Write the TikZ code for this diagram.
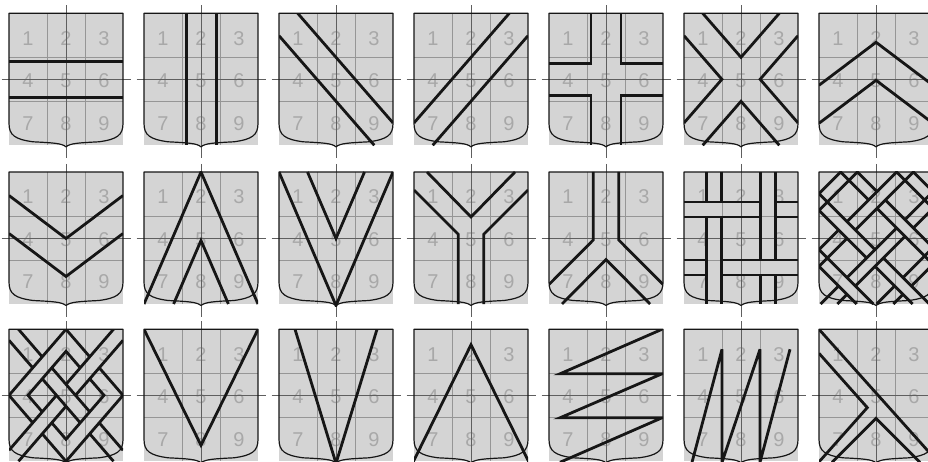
\documentclass[tikz,border=0pt]{standalone}
\usepackage{fontspec}
\setmainfont{Liberation Sans}
\definecolor{fillc}{RGB}{212,212,212}
\definecolor{gridc}{RGB}{150,150,150}
\definecolor{axisc}{RGB}{95,95,95}
\definecolor{numc}{RGB}{168,168,168}
\definecolor{ink}{RGB}{22,22,22}
\tikzset{
  gridln/.style={draw=gridc, line width=0.7pt},
  axisln/.style={draw=axisc, line width=0.9pt},
  outln/.style={draw=ink, line width=1.2pt, line join=round},
  pat/.style={draw=ink, line width=2.8pt, line join=miter, miter limit=5},
  digit/.style={text=numc, font=\fontsize{20}{20}\selectfont, inner sep=0pt}
}
\newcommand{\shieldat}[4]{%
  \begin{scope}[shift={(#2,#3)}]
    \fill[fillc] (0,0) rectangle (114,132);
    \draw[gridln] (38,0) -- (38,132) (76,0) -- (76,132) (0,44) -- (114,44) (0,88) -- (114,88);
    \foreach \n/\px/\py in {1/19/25,2/57/25,3/95/25,4/19/67.5,5/57/67.5,6/95/67.5,7/19/110,8/57/110,9/95/110}
      \node[digit] (#1d\n) at (\px,\py) {\n};
    \draw[axisln] (57,-8) -- (57,145) (-7.5,66.5) -- (121.5,66.5);
    \draw[outln] (0,0) -- (114,0) -- (114,110) .. controls (114,122) and (108,126) .. (90,128.5)
      .. controls (70,129.5) and (61,130) .. (57,133.5)
      .. controls (53,130) and (44,129.5) .. (24,128.5)
      .. controls (6,126) and (0,122) .. (0,110) -- cycle;
    \begin{scope}
      \clip (0,0) rectangle (114,134);
      #4
    \end{scope}
  \end{scope}}
\begin{document}
\begin{tikzpicture}[x=1pt,y=-1pt]
\useasboundingbox (0,0) rectangle (928,462);
% ---------- row 1
\shieldat{a}{9}{13.3}{\draw[pat] (0,48.5) -- (114,48.5) (0,84.5) -- (114,84.5);}
\shieldat{b}{144}{13.3}{\draw[pat] (42.5,0) -- (42.5,132) (72.5,0) -- (72.5,132);}
\shieldat{c}{279}{13.3}{\draw[pat] (18.7,0) -- (114,109.6) (0,22.4) -- (95.3,132);}
\shieldat{d}{414}{13.3}{\draw[pat] (95.3,0) -- (0,109.6) (114,22.4) -- (18.7,132);}
\shieldat{e}{549}{13.3}{\draw[pat] (42,0) -- (42,50) -- (0,50) (72,0) -- (72,50) -- (114,50)
   (0,82) -- (42,82) -- (42,132) (114,82) -- (72,82) -- (72,132);}
\shieldat{f}{684}{13.3}{\draw[pat] (18.7,0) -- (57,44) -- (95.3,0) (18.7,132) -- (57,88) -- (95.3,132)
   (0,22.4) -- (37.9,66) -- (0,109.6) (114,22.4) -- (76.1,66) -- (114,109.6);}
\shieldat{g}{819}{13.3}{\draw[pat] (0,72) -- (57,29) -- (114,72) (0,110) -- (57,67) -- (114,110);}
% ---------- row 2
\shieldat{h}{9}{172}{\draw[pat] (0,23.5) -- (57,66.5) -- (114,23.5) (0,61.5) -- (57,104.5) -- (114,61.5);}
\shieldat{i}{144}{172}{\draw[pat] (0,132) -- (57,0) -- (114,132) (29.6,132) -- (57,68.5) -- (84.4,132);}
\shieldat{j}{279}{172}{\draw[pat] (0,0) -- (57,133.5) -- (114,0) (28.5,0) -- (57,66.5) -- (85.5,0);}
\shieldat{k}{414}{172}{\draw[pat] (13,0) -- (57,45) -- (101,0) (0,18) -- (44.25,62.25) -- (44.25,132)
   (114,18) -- (69.75,62.25) -- (69.75,132);}
\shieldat{l}{549}{172}{\draw[pat] (44.25,0) -- (44.25,68) -- (0,112.5) (69.75,0) -- (69.75,68) -- (114,112.5)
   (13,132) -- (57,87.5) -- (101,132);}
\shieldat{m}{684}{172}{\draw[pat] (22.5,0) -- (22.5,30) (37.5,0) -- (37.5,30) (22.5,45) -- (22.5,132) (37.5,45) -- (37.5,132)
   (76.5,0) -- (76.5,88) (91.5,0) -- (91.5,88) (76.5,103) -- (76.5,132) (91.5,103) -- (91.5,132)
   (0,30) -- (76.5,30) (0,45) -- (76.5,45) (91.5,30) -- (114,30) (91.5,45) -- (114,45)
   (0,88) -- (22.5,88) (0,103) -- (22.5,103) (37.5,88) -- (114,88) (37.5,103) -- (114,103);}
\shieldat{n}{819}{172}{\draw[pat]
   (56,77.7) -- (0,21.7) -- (21.7,0) -- (49.7,28)
   (58,36.3) -- (114,92.3) -- (92.3,114)
   (84,122.3) -- (74.3,132)
   (64.3,86) -- (110.3,132)
   (47.7,86) -- (0,38.3) -- (38.3,0) -- (58,19.7)
   (66.3,28) -- (114,75.7) -- (84,105.7)
   (75.7,114) -- (57.7,132)
   (56,94.3) -- (93.7,132)
   (19.7,58) -- (0,77.7) -- (54.3,132)
   (28,49.7) -- (77.7,0) -- (114,36.3) -- (94.3,56)
   (86,64.3) -- (36.3,114)
   (28,122.3) -- (18.3,132)
   (28,66.3) -- (0,94.3) -- (37.7,132)
   (36.3,58) -- (94.3,0) -- (114,19.7) -- (86,47.7)
   (77.7,56) -- (28,105.7)
   (19.7,114) -- (1.7,132);}
% ---------- row 3
\shieldat{o}{9}{329.3}{\draw[pat]
   (9.5,0) -- (33.25,27.5) (0,11) -- (23.75,38.5)
   (42.74,38.5) -- (80.74,82.5) (33.25,49.5) -- (71.24,93.5)
   (90.24,93.5) -- (114,121) (80.74,104.5) -- (104.5,132)
   (0,121) -- (47.5,66) (57,55) -- (104.5,0)
   (9.5,132) -- (57,77) (66.5,66) -- (114,11)
   (23.75,93.5) -- (0,66) -- (57,0) -- (80.74,27.5)
   (90.24,38.5) -- (114,66) -- (57,132) -- (33.25,104.5)
   (33.25,82.5) -- (19,66) -- (57,22) -- (71.24,38.5)
   (80.74,49.5) -- (95,66) -- (57,110) -- (42.74,93.5);}
\shieldat{p}{144}{329.3}{\draw[pat] (0,0) -- (57,116) -- (114,0);}
\shieldat{q}{279}{329.3}{\draw[pat] (16,0) -- (57,134) -- (98,0);}
\shieldat{r}{414}{329.3}{\draw[pat] (-1,133) -- (57,15.5) -- (115,133);}
\shieldat{s}{549}{329.3}{\draw[pat] (113,0) -- (11,44.5) -- (113,44.5) -- (11,88.5) -- (113,88.5) -- (11,133);}
\shieldat{t}{684}{329.3}{\draw[pat] (8,133) -- (38,20) -- (38,133) (38,133) -- (76,20) -- (76,133) (76,133) -- (106,20);}
\shieldat{u}{819}{329.3}{\draw[pat] (0,0) -- (120,134) (0,24) -- (48.3,78.3) -- (0,132.6) (13,133) -- (57,89) -- (101,133);}
\end{tikzpicture}
\end{document}
